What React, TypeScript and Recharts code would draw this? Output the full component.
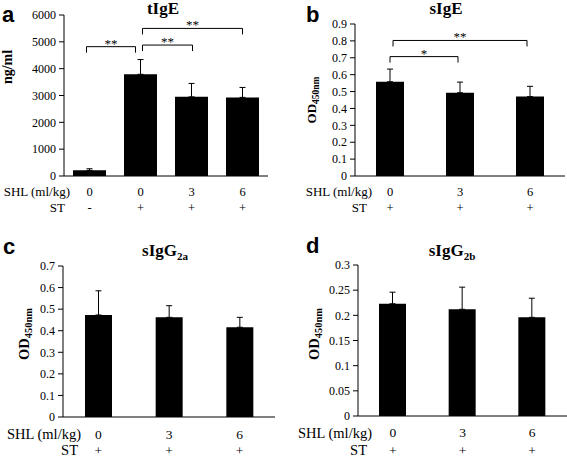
import { BarChart, Bar, XAxis, YAxis, ErrorBar, ReferenceLine } from 'recharts';

const serif = '"Liberation Serif", "Times New Roman", serif';
const sans = '"Liberation Sans", Arial, sans-serif';

// panel a: total IgE (ng/ml)
const groupsA = ['g1', 'g2', 'g3', 'g4'];
const shlA = ['0', '0', '3', '6'];
const stA = ['-', '+', '+', '+'];
const tIgE = [210, 3790, 2950, 2930];
const tIgESd = [60, 550, 500, 370];
const ticksA = [0, 1000, 2000, 3000, 4000, 5000, 6000];

// panels b-d: same three groups
const groups = ['g1', 'g2', 'g3'];
const shl = ['0', '3', '6'];
const st = ['+', '+', '+'];

const sIgE = [0.558, 0.493, 0.47];
const sIgESd = [0.075, 0.063, 0.061];
const ticksB = [0, 0.1, 0.2, 0.3, 0.4, 0.5, 0.6, 0.7, 0.8, 0.9];

const sIgG2a = [0.473, 0.462, 0.416];
const sIgG2aSd = [0.112, 0.054, 0.046];
const ticksC = [0, 0.1, 0.2, 0.3, 0.4, 0.5, 0.6, 0.7];

const sIgG2b = [0.223, 0.212, 0.196];
const sIgG2bSd = [0.023, 0.044, 0.038];
const ticksD = [0, 0.05, 0.1, 0.15, 0.2, 0.25, 0.3];

// significance brackets between groups; dx = small nudge so ends don't collide
const bracketsA = [
  { from: 'g1', to: 'g2', y: 4820, mark: '**', dx1: -3, dx2: -5 },
  { from: 'g2', to: 'g3', y: 4880, mark: '**', dx1: 2, dx2: 1 },
  { from: 'g2', to: 'g4', y: 5500, mark: '**', dx1: 2, dx2: 0 },
];
const bracketsB = [
  { from: 'g1', to: 'g2', y: 0.707, mark: '*', dx1: 0, dx2: -2 },
  { from: 'g1', to: 'g3', y: 0.8025, mark: '**', dx1: 3, dx2: -3 },
];

const rows = (ids: string[], means: number[], sds: number[]) =>
  ids.map((id, i) => ({ id, mean: means[i], err: [0, sds[i]] }));

const bracketShape = (b: any) => (s: any) => {
  const x1 = s.x1 + b.dx1;
  const x2 = s.x2 + b.dx2;
  const y = s.y1;
  return (
    <g>
      <path d={`M${x1},${y + 6}V${y}H${x2}V${y + 6}`} fill="none" stroke="#000" strokeWidth={1} />
      <text x={(x1 + x2) / 2} y={y + 1} textAnchor="middle" fontFamily={serif} fontSize={13} fill="#000">
        {b.mark}
      </text>
    </g>
  );
};

function Panel(p: any) {
  const GroupTick = (t: any) => {
    const i = t.index;
    return (
      <g>
        <text x={t.x} y={t.y + p.row1} textAnchor="middle" fontFamily={serif} fontSize={p.labelFont} fill="#000">
          {p.shl[i]}
        </text>
        <text x={t.x} y={t.y + p.row2} textAnchor="middle" fontFamily={serif} fontSize={p.labelFont} fill="#000">
          {p.st[i]}
        </text>
      </g>
    );
  };

  return (
    <div
      style={{
        position: 'absolute',
        left: p.left,
        top: p.top,
        width: p.width,
        height: p.height,
        fontFamily: serif,
      }}
    >
      <BarChart width={p.width} height={p.height} data={p.data} margin={p.margin}>
        <XAxis
          dataKey="id"
          interval={0}
          height={p.xHeight}
          axisLine={{ stroke: '#000', strokeWidth: 1 }}
          tickLine={false}
          tickSize={0}
          tickMargin={0}
          tick={<GroupTick />}
        />
        <YAxis
          domain={p.domain}
          ticks={p.ticks}
          interval={0}
          width={p.yWidth}
          allowDataOverflow
          axisLine={{ stroke: '#000', strokeWidth: 1 }}
          tickLine={{ stroke: '#000', strokeWidth: 1 }}
          tickSize={5}
          tickMargin={3}
          tick={{ fill: '#000', fontSize: 12, fontFamily: serif }}
        />
        <Bar dataKey="mean" fill="#000" barSize={p.barSize} isAnimationActive={false}>
          <ErrorBar dataKey="err" direction="y" width={3} stroke="#000" strokeWidth={1} isAnimationActive={false} />
        </Bar>
        {(p.brackets || []).map((b: any, k: number) => (
          <ReferenceLine
            key={k}
            segment={[{ x: b.from, y: b.y }, { x: b.to, y: b.y }]}
            ifOverflow="visible"
            shape={bracketShape(b)}
          />
        ))}
      </BarChart>
    </div>
  );
}

function Overlay() {
  const t = { fontFamily: serif, fill: '#000' };
  return (
    <svg
      width={567}
      height={457}
      style={{ position: 'absolute', left: 0, top: 0, pointerEvents: 'none', fontFamily: serif }}
    >
      {/* panel letters */}
      <text x={2} y={21.5} fontFamily={sans} fontWeight="bold" fontSize={22}>a</text>
      <text x={306} y={21.5} fontFamily={sans} fontWeight="bold" fontSize={22}>b</text>
      <text x={3} y={254} fontFamily={sans} fontWeight="bold" fontSize={22}>c</text>
      <text x={306} y={253} fontFamily={sans} fontWeight="bold" fontSize={22}>d</text>

      {/* titles */}
      <text {...t} x={163} y={14} fontSize={17} fontWeight="bold" textAnchor="middle">tIgE</text>
      <text {...t} x={446} y={14} fontSize={17} fontWeight="bold" textAnchor="middle">sIgE</text>
      <text {...t} x={165} y={256} fontSize={17} fontWeight="bold" textAnchor="middle">
        sIgG<tspan fontSize={11} dy={4}>2a</tspan>
      </text>
      <text {...t} x={452} y={256} fontSize={17} fontWeight="bold" textAnchor="middle">
        sIgG<tspan fontSize={11} dy={4}>2b</tspan>
      </text>

      {/* y axis labels */}
      <text {...t} x={12} y={67} fontSize={14} fontWeight="bold" textAnchor="middle" transform="rotate(-90 12 67)">ng/ml</text>
      <text {...t} x={316} y={100} fontSize={13} fontWeight="bold" textAnchor="middle" transform="rotate(-90 316 100)">
        OD<tspan fontSize={9.5} dy={3}>450nm</tspan>
      </text>
      <text {...t} x={29} y={334} fontSize={14.5} fontWeight="bold" textAnchor="middle" transform="rotate(-90 29 334)">
        OD<tspan fontSize={10.5} dy={3}>450nm</tspan>
      </text>
      <text {...t} x={319} y={334} fontSize={14.5} fontWeight="bold" textAnchor="middle" transform="rotate(-90 319 334)">
        OD<tspan fontSize={10.5} dy={3}>450nm</tspan>
      </text>

      {/* row headers */}
      <text {...t} x={70} y={196} fontSize={13} textAnchor="end">SHL (ml/kg)</text>
      <text {...t} x={65} y={212} fontSize={13} textAnchor="end">ST</text>
      <text {...t} x={372} y={196} fontSize={13} textAnchor="end">SHL (ml/kg)</text>
      <text {...t} x={367} y={212} fontSize={13} textAnchor="end">ST</text>
      <text {...t} x={81} y={439} fontSize={14.5} textAnchor="end">SHL (ml/kg)</text>
      <text {...t} x={78} y={455} fontSize={14.5} textAnchor="end">ST</text>
      <text {...t} x={372} y={438} fontSize={14.5} textAnchor="end">SHL (ml/kg)</text>
      <text {...t} x={367} y={455} fontSize={14.5} textAnchor="end">ST</text>
    </svg>
  );
}

export default function App() {
  return (
    <div style={{ position: 'absolute', left: 0, top: 0, width: 567, height: 457, background: '#fff' }}>
      <Panel
        left={0} top={0} width={290} height={230}
        margin={{ top: 15, right: 22, bottom: 0, left: 0 }}
        yWidth={64} xHeight={54} barSize={33}
        data={rows(groupsA, tIgE, tIgESd)}
        domain={[0, 6000]} ticks={ticksA}
        shl={shlA} st={stA} labelFont={12.5} row1={20} row2={36}
        brackets={bracketsA}
      />
      <Panel
        left={280} top={0} width={287} height={230}
        margin={{ top: 24, right: 2, bottom: 0, left: 0 }}
        yWidth={75} xHeight={54} barSize={28}
        data={rows(groups, sIgE, sIgESd)}
        domain={[0, 0.9]} ticks={ticksB}
        shl={shl} st={st} labelFont={12.5} row1={20} row2={36}
        brackets={bracketsB}
      />
      <Panel
        left={0} top={230} width={290} height={227}
        margin={{ top: 36, right: 15, bottom: 0, left: 0 }}
        yWidth={63} xHeight={40} barSize={27}
        data={rows(groups, sIgG2a, sIgG2aSd)}
        domain={[0, 0.7]} ticks={ticksC}
        shl={shl} st={st} labelFont={13.5} row1={22} row2={38}
      />
      <Panel
        left={280} top={230} width={287} height={227}
        margin={{ top: 35, right: 0, bottom: 0, left: 0 }}
        yWidth={78} xHeight={41} barSize={27}
        data={rows(groups, sIgG2b, sIgG2bSd)}
        domain={[0, 0.3]} ticks={ticksD}
        shl={shl} st={st} labelFont={13.5} row1={21} row2={39}
      />
      <Overlay />
    </div>
  );
}
